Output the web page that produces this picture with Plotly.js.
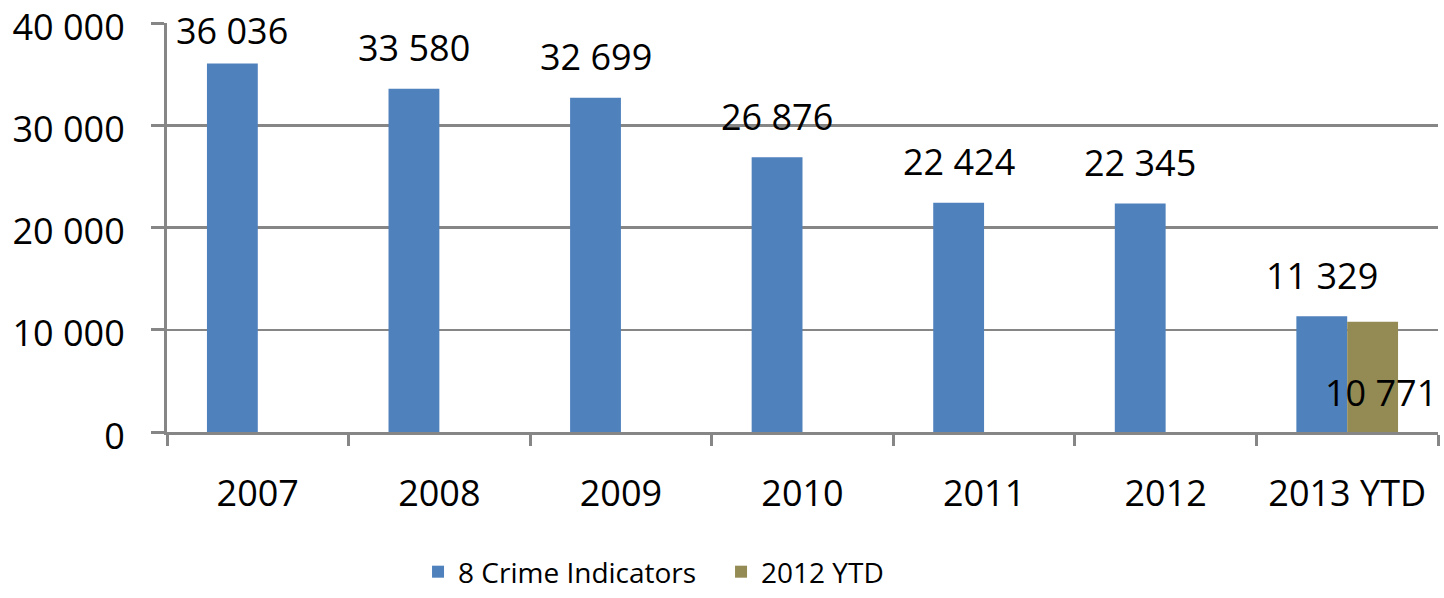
<!DOCTYPE html>
<html><head><meta charset="utf-8">
<script src="https://cdn.plot.ly/plotly-3.0.1.min.js"></script>
<style>body{margin:0;background:#fff}#c{width:1444px;height:598px}</style>
</head><body><div id="c"></div>
<script>
const categories = ["2007","2008","2009","2010","2011","2012","2013 YTD"];
const crime = [36036, 33580, 32699, 26876, 22424, 22345, 11329];
const ytd2012 = [null, null, null, null, null, null, 10771];
const yTickVals = [0, 10000, 20000, 30000, 40000];
const yTickText = ["0", "10 000", "20 000", "30 000", "40 000"];

const FONT = "'Open Sans', Lato, sans-serif";
const fmt = v => String(v).replace(/\B(?=(\d{3})+(?!\d))/g, " ");
const idx = categories.map((_, i) => i);
const bounds = categories.map((_, i) => i - 0.5).concat([categories.length - 0.5]);

const plotH = 409, yMax = 40000, catW = 1271 / 7;
const annotations = [];
crime.forEach((v, i) => {
  const px = v / yMax * plotH;
  const ys = Math.min(41, 401.5 - px);
  annotations.push({x: i, y: v, xref: "x", yref: "y", text: fmt(v),
    showarrow: false, xshift: -0.14 * catW, yshift: ys, yanchor: "middle",
    font: {family: FONT, size: 36, color: "#000"}});
});
ytd2012.forEach((v, i) => {
  if (v == null) return;
  annotations.push({x: i, y: v, xref: "x", yref: "y", text: fmt(v),
    showarrow: false, xshift: 0.14 * catW + 8, yshift: -71, yanchor: "middle",
    font: {family: FONT, size: 36, color: "#000"}});
});

const data = [
  {type: "bar", name: "8 Crime Indicators", x: idx, y: crime,
   marker: {color: "#4F81BD"}},
  {type: "bar", name: "2012 YTD", x: idx, y: ytd2012,
   marker: {color: "#948A54"}}
];
const layout = {
  width: 1444, height: 598,
  margin: {l: 167, r: 6, t: 23, b: 166},
  paper_bgcolor: "#fff", plot_bgcolor: "#fff",
  barmode: "group", bargap: 0.44, bargroupgap: 0,
  font: {family: FONT, size: 36, color: "#000"},
  xaxis: {type: "linear", range: [-0.5, categories.length - 0.5],
    tickmode: "array", tickvals: idx, ticktext: categories,
    showline: true, linecolor: "#868686", linewidth: 3,
    ticks: "", ticklabelstandoff: 28, showgrid: false, zeroline: false,
    minor: {tickmode: "array", tickvals: bounds, ticks: "outside", ticklen: 11,
      tickwidth: 3, tickcolor: "#868686", showgrid: false},
    tickfont: {family: FONT, size: 36, color: "#000"}},
  yaxis: {range: [0, yMax], tickmode: "array", tickvals: yTickVals, ticktext: yTickText,
    showline: true, linecolor: "#868686", linewidth: 3,
    ticks: "outside", ticklen: 13, tickwidth: 3, tickcolor: "#868686",
    showgrid: true, gridcolor: "#868686", gridwidth: 2.5, zeroline: false,
    ticklabeloverflow: "allow", ticklabelshift: 4,
    ticklabelstandoff: 19, tickfont: {family: FONT, size: 36, color: "#000"}},
  legend: {orientation: "h", xref: "container", yref: "container",
    x: 0.2895, xanchor: "left", y: 0.0853, yanchor: "top",
    entrywidth: 258, entrywidthmode: "pixels",
    font: {family: FONT, size: 28, color: "#000"}},
  annotations: annotations,
  showlegend: true
};
Plotly.newPlot("c", data, layout, {staticPlot: true, displayModeBar: false});
</script></body></html>
